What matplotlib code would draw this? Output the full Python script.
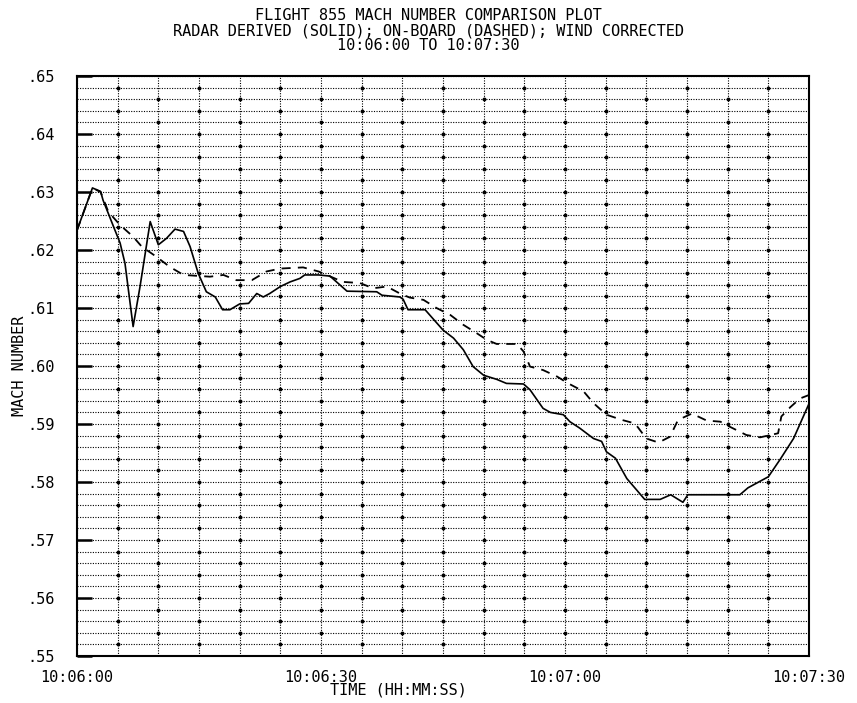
import numpy as np
import matplotlib
matplotlib.use('Agg')
import matplotlib.pyplot as plt
from matplotlib.ticker import MultipleLocator, FuncFormatter

# seconds after 10:06:00
t_radar = [0, 1.9, 2.9, 3.2, 4.5, 5.3, 5.9, 6.9, 7.75, 9.0, 9.3, 10.0, 11.0, 12.05, 13.1,
           13.9, 14.9, 15.9, 17.0, 17.9, 18.8, 20.0, 21.1, 22.1, 22.9, 23.7, 25.0, 26.2,
           27.4, 28.0, 29.7, 31.1, 33.2, 36.85, 37.5, 39.7, 40.1, 40.7, 42.8, 45.0, 46.3,
           47.5, 48.7, 50.0, 51.6, 52.8, 54.9, 55.7, 57.3, 58.2, 59.8, 60.6, 61.8, 63.5,
           64.5, 65.1, 66.2, 67.6, 69.8, 71.7, 73.0, 74.5, 75.1, 81.5, 82.5, 85.0, 86.5,
           88.1, 90.0]
mach_radar = [.6234, .6307, .6301, .6286, .6240, .6212, .6177, .6068, .6137, .6249, .6237,
              .6209, .6220, .6236, .6232, .6206, .6160, .6128, .6119, .6097, .6097, .6107,
              .6108, .6125, .6119, .6125, .6137, .6145, .6151, .6157, .6157, .6155, .6129,
              .6128, .6122, .6119, .6115, .6097, .6097, .6062, .6048, .6028, .5999, .5984,
              .5977, .5970, .5969, .5959, .5927, .5920, .5916, .5904, .5893, .5875, .5870,
              .5852, .5841, .5806, .5770, .5770, .5778, .5765, .5778, .5778, .5790, .5809,
              .5840, .5875, .5935]

t_board = [0, 1.9, 2.9, 3.85, 5.3, 6.9, 7.95, 9.8, 11.4, 13.1, 16.35, 18.0, 19.6, 21.5,
           23.3, 25.0, 27.8, 29.7, 30.7, 32.7, 34.8, 36.4, 38.1, 39.7, 40.9, 42.6, 44.2,
           45.9, 47.5, 49.1, 50.4, 51.6, 54.1, 54.9, 55.7, 57.3, 59.0, 60.4, 62.3, 63.5,
           65.1, 67.0, 68.6, 70.0, 71.5, 72.9, 73.9, 75.6, 77.4, 79.1, 80.3, 82.3, 84.0,
           86.2, 86.6, 87.7, 88.9, 90.0]
mach_board = [.6234, .6307, .6300, .6266, .6243, .6223, .6206, .6188, .6171, .6157, .6154,
              .6157, .6148, .6148, .6163, .6168, .6170, .6163, .6157, .6145, .6143, .6134,
              .6137, .6125, .6118, .6114, .6100, .6088, .6071, .6057, .6045, .6038, .6038,
              .6025, .5999, .5993, .5982, .5970, .5956, .5936, .5916, .5907, .5901, .5875,
              .5868, .5878, .5907, .5918, .5906, .5904, .5895, .5881, .5877, .5884, .5913,
              .5929, .5944, .5950]

x_ticks = [0, 30, 60, 90]
x_labels = ['10:06:00', '10:06:30', '10:07:00', '10:07:30']

FONT = 'DejaVu Sans Mono'

fig = plt.figure(figsize=(8.57, 7.03), dpi=100)
ax = fig.add_axes([77/857, 1 - 656/703, (809 - 77)/857, (656 - 76)/703])

# grid: every 5 s and every .002
ax.set_xlim(0, 90)
ax.set_ylim(0.55, 0.65)
ax.xaxis.set_minor_locator(MultipleLocator(5))
ax.yaxis.set_minor_locator(MultipleLocator(0.002))
ax.set_yticks(np.arange(0.55, 0.6501, 0.01))
ax.set_xticks(x_ticks)
ax.set_xticklabels(x_labels, family=FONT, fontsize=11)
ax.yaxis.set_major_formatter(FuncFormatter(lambda v, p: ('%.2f' % v)[1:]))
for lab in ax.get_yticklabels():
    lab.set_family(FONT)
    lab.set_fontsize(11)

ax.grid(which='both', color='black', linestyle=(0, (1, 1.3)), linewidth=0.8)

# plotter dots on alternate grid crossings
gx = np.arange(5, 90, 5)
gy = np.arange(0.552, 0.6495, 0.002)
dx, dy = [], []
for i, xx in enumerate(gx, start=1):
    for yy in gy:
        jj = int(round((0.65 - yy) / 0.002))
        if (i + jj) % 2 == 0:
            dx.append(xx)
            dy.append(yy)
ax.plot(dx, dy, 'o', color='black', markersize=1.8, zorder=2)

ax.plot(t_radar, mach_radar, color='black', linewidth=1.2, zorder=3)
ax.plot(t_board, mach_board, color='black', linewidth=1.3,
        linestyle=(0, (5, 4)), zorder=3)

ax.tick_params(axis='y', which='major', direction='in', length=11, width=1.8,
               pad=16, left=True, right=False)
ax.tick_params(axis='x', which='major', length=0, pad=10)
ax.tick_params(which='minor', length=0)
for s in ax.spines.values():
    s.set_linewidth(1.5)

fig.text(0.5, 1 - 15/703, 'FLIGHT 855 MACH NUMBER COMPARISON PLOT',
         ha='center', va='center', family=FONT, fontsize=11)
fig.text(0.5, 1 - 31/703, 'RADAR DERIVED (SOLID); ON-BOARD (DASHED); WIND CORRECTED',
         ha='center', va='center', family=FONT, fontsize=11)
fig.text(0.5, 1 - 46/703, '10:06:00 TO 10:07:30',
         ha='center', va='center', family=FONT, fontsize=11)
fig.text(398/857, 1 - 690/703, 'TIME (HH:MM:SS)', ha='center', va='center',
         family=FONT, fontsize=11)
fig.text(20/857, 1 - 366/703, 'MACH NUMBER', ha='center', va='center',
         rotation=90, family=FONT, fontsize=11)

fig.savefig('out.png', dpi=100)
